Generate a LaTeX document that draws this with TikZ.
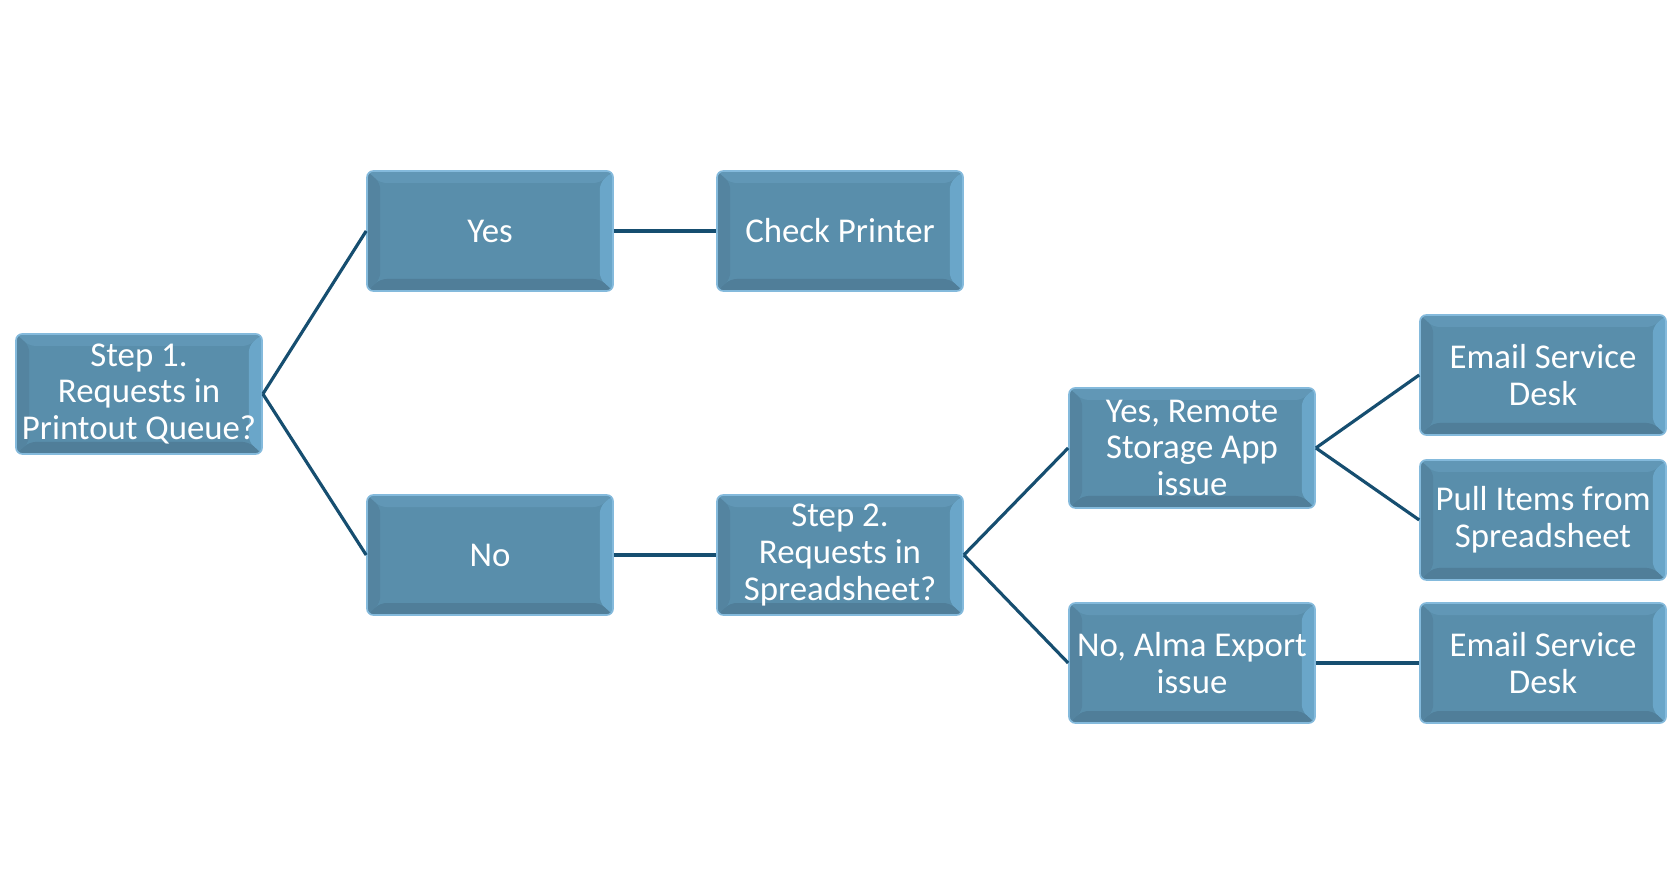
\documentclass[tikz,border=0pt]{standalone}
\usepackage{fontspec}
\setmainfont{Carlito}
\usepackage{xcolor}
\definecolor{boxFill}{RGB}{89, 142, 171}
\definecolor{boxTop}{RGB}{97, 151, 182}
\definecolor{boxRight}{RGB}{106, 166, 201}
\definecolor{boxBottom}{RGB}{80, 126, 153}
\definecolor{boxLeft}{RGB}{84, 132, 160}
\definecolor{boxEdge}{RGB}{132, 186, 220}
\definecolor{lineBlue}{RGB}{22, 78, 112}
\usepackage{tikz}
\usetikzlibrary{calc}

\begin{document}
\begin{tikzpicture}[
    every node/.style={font=\fontsize{16.5}{17.5}\selectfont},
    box/.style={
        rectangle, rounded corners=3pt, draw=boxEdge, line width=0.8pt,
        fill=boxFill, text=white, align=center, inner sep=1pt,
        minimum width=4.1cm, minimum height=2.0cm,
        path picture={
            \coordinate (pNW) at (path picture bounding box.north west);
            \coordinate (pNE) at (path picture bounding box.north east);
            \coordinate (pSE) at (path picture bounding box.south east);
            \coordinate (pSW) at (path picture bounding box.south west);
            \coordinate (iNW) at ($(pNW)+(0.22,-0.2)$);
            \coordinate (iNE) at ($(pNE)+(-0.22,-0.2)$);
            \coordinate (iSE) at ($(pSE)+(-0.22,0.2)$);
            \coordinate (iSW) at ($(pSW)+(0.22,0.2)$);
            \fill[boxTop]    (pNW) -- (pNE) -- (iNE) -- (iNW) -- cycle;
            \fill[boxRight]  (pNE) -- (pSE) -- (iSE) -- (iNE) -- cycle;
            \fill[boxBottom] (pSE) -- (pSW) -- (iSW) -- (iSE) -- cycle;
            \fill[boxLeft]   (pSW) -- (pNW) -- (iNW) -- (iSW) -- cycle;
        }
    },
    link/.style={line width=1.5pt, lineBlue}
]
\useasboundingbox (0,0) rectangle (28,14.933);

%% ---- Decision boxes ----
\node[box] (q1)    at (2.317,8.367)  {Step 1.\\Requests in\\Printout Queue?};
\node[box] (yes1)  at (8.167,11.083) {Yes};
\node[box] (no1)   at (8.167,5.683)  {No};
\node[box] (chk)   at (14.0,11.083)  {Check Printer};
\node[box] (q2)    at (14.0,5.683)   {Step 2.\\Requests in\\Spreadsheet?};
\node[box] (yes2)  at (19.867,7.467) {Yes, Remote\\Storage App\\issue};
\node[box] (no2)   at (19.867,3.883) {No, Alma Export\\issue};
\node[box] (mailA) at (25.717,8.683) {Email Service\\Desk};
\node[box] (pull)  at (25.717,6.267) {Pull Items from\\Spreadsheet};
\node[box] (mailB) at (25.717,3.883) {Email Service\\Desk};

%% ---- Connectors ----
\draw[link] (q1.east)   -- (yes1.west);
\draw[link] (q1.east)   -- (no1.west);
\draw[link] (yes1.east) -- (chk.west);
\draw[link] (no1.east)  -- (q2.west);
\draw[link] (q2.east)   -- (yes2.west);
\draw[link] (q2.east)   -- (no2.west);
\draw[link] (yes2.east) -- (mailA.west);
\draw[link] (yes2.east) -- (pull.west);
\draw[link] (no2.east)  -- (mailB.west);

\end{tikzpicture}
\end{document}
